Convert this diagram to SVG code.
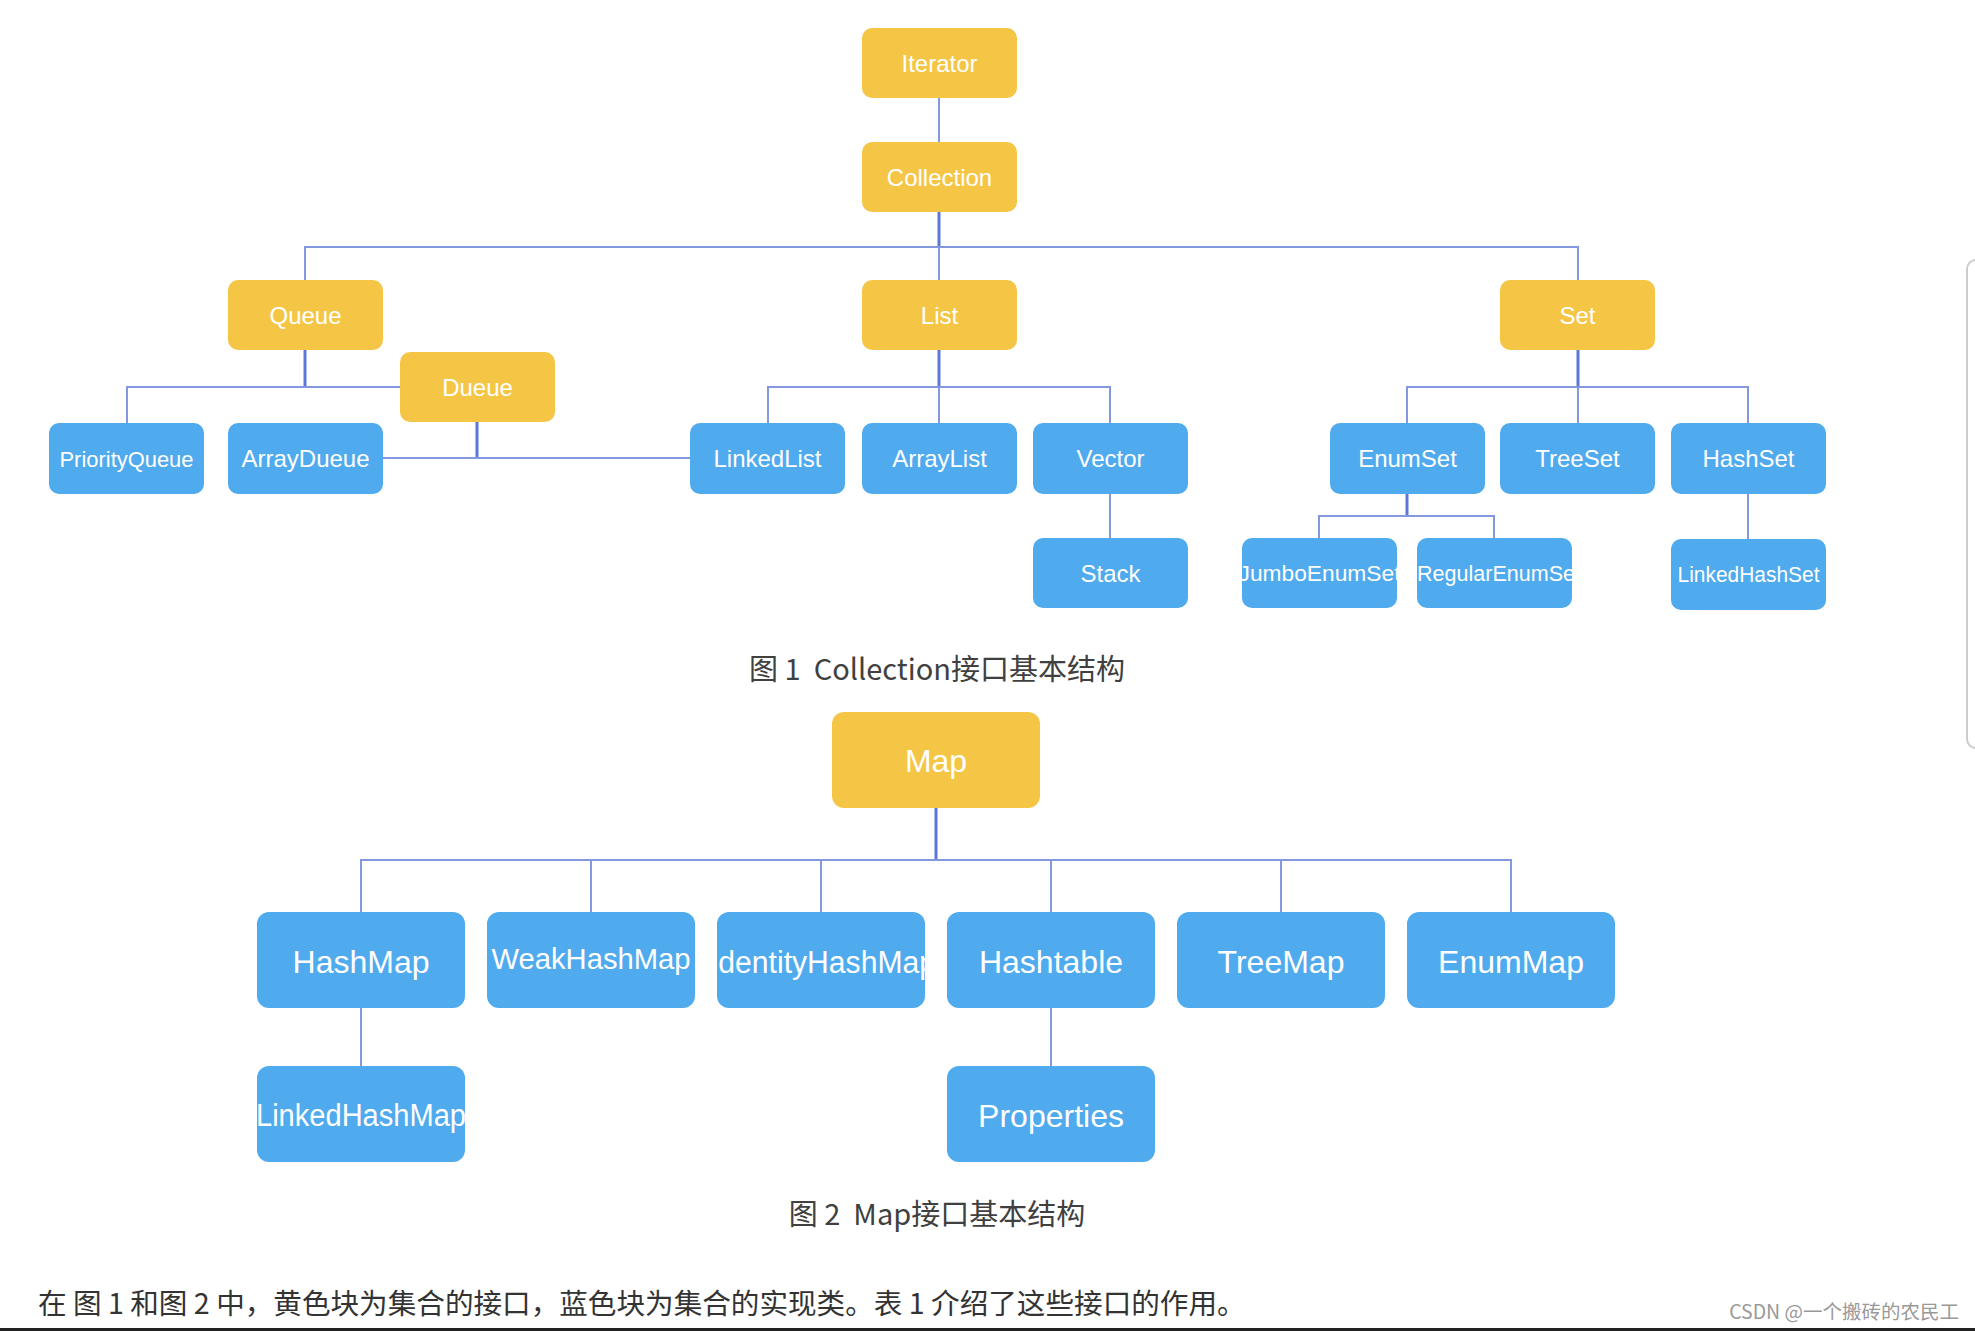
<svg xmlns="http://www.w3.org/2000/svg" width="1975" height="1331" viewBox="0 0 1975 1331">
<style>
.y{fill:#F5C646}
.b{fill:#4FAAEE}
.t{font-family:"Liberation Sans",Arial,sans-serif;fill:#ffffff;text-anchor:middle}
.s{font-size:24px}
.m{font-size:32px}
.c{stroke:#8398DF;stroke-width:2;fill:none}
.d{stroke:#5C78D6;stroke-width:3;fill:none}
.cap{font-family:"Noto Sans CJK SC","Microsoft YaHei",sans-serif;fill:#404040;text-anchor:middle}
</style>
<defs>
<clipPath id="cJumbo"><rect x="1242" y="538" width="155" height="70" rx="10"/></clipPath>
<clipPath id="cReg"><rect x="1417" y="538" width="155" height="70" rx="10"/></clipPath>
<clipPath id="cIdent"><rect x="717" y="912" width="208" height="96" rx="12"/></clipPath>
<clipPath id="cLHM"><rect x="257" y="1066" width="208" height="96" rx="12"/></clipPath>
</defs>
<rect x="0" y="0" width="1975" height="1331" fill="#ffffff"/>

<g id="connectors">
  <path class="c" d="M939 98V142"/>
  <path class="d" d="M939 212V247"/>
  <path class="c" d="M305 280V247H1578V280M939 247V280"/>
  <path class="d" d="M305 350V387"/>
  <path class="c" d="M127 423V387H400"/>
  <path class="d" d="M477 422V458"/>
  <path class="c" d="M383 458H690"/>
  <path class="d" d="M939 350V387"/>
  <path class="c" d="M768 423V387H1110V423M939 387V423"/>
  <path class="c" d="M1110 494V538"/>
  <path class="d" d="M1578 350V387"/>
  <path class="c" d="M1407 423V387H1748V423M1578 387V423"/>
  <path class="d" d="M1407 494V516"/>
  <path class="c" d="M1319 538V516H1494V538"/>
  <path class="c" d="M1748 494V539"/>
  <path class="d" d="M936 808V860"/>
  <path class="c" d="M361 912V860H1511V912M591 860V912M821 860V912M1051 860V912M1281 860V912"/>
  <path class="c" d="M361 1008V1066"/>
  <path class="c" d="M1051 1008V1066"/>
</g>

<g id="n-iterator"><rect class="y" x="862" y="28" width="155" height="70" rx="10"/><text class="t s" x="939.5" y="72">Iterator</text></g>
<g id="n-collection"><rect class="y" x="862" y="142" width="155" height="70" rx="10"/><text class="t s" x="939.5" y="186">Collection</text></g>
<g id="n-queue"><rect class="y" x="228" y="280" width="155" height="70" rx="10"/><text class="t s" x="305.5" y="324">Queue</text></g>
<g id="n-list"><rect class="y" x="862" y="280" width="155" height="70" rx="10"/><text class="t s" x="939.5" y="324">List</text></g>
<g id="n-set"><rect class="y" x="1500" y="280" width="155" height="70" rx="10"/><text class="t s" x="1577.5" y="324">Set</text></g>
<g id="n-dueue"><rect class="y" x="400" y="352" width="155" height="70" rx="10"/><text class="t s" x="477.5" y="396">Dueue</text></g>
<g id="n-priorityqueue"><rect class="b" x="49" y="423" width="155" height="71" rx="10"/><text class="t" style="font-size:22px" x="126.5" y="467" textLength="134" lengthAdjust="spacingAndGlyphs">PriorityQueue</text></g>
<g id="n-arraydueue"><rect class="b" x="228" y="423" width="155" height="71" rx="10"/><text class="t s" x="305.5" y="467">ArrayDueue</text></g>
<g id="n-linkedlist"><rect class="b" x="690" y="423" width="155" height="71" rx="10"/><text class="t s" x="767.5" y="467">LinkedList</text></g>
<g id="n-arraylist"><rect class="b" x="862" y="423" width="155" height="71" rx="10"/><text class="t s" x="939.5" y="467">ArrayList</text></g>
<g id="n-vector"><rect class="b" x="1033" y="423" width="155" height="71" rx="10"/><text class="t s" x="1110.5" y="467">Vector</text></g>
<g id="n-stack"><rect class="b" x="1033" y="538" width="155" height="70" rx="10"/><text class="t s" x="1110.5" y="582">Stack</text></g>
<g id="n-enumset"><rect class="b" x="1330" y="423" width="155" height="71" rx="10"/><text class="t s" x="1407.5" y="467">EnumSet</text></g>
<g id="n-treeset"><rect class="b" x="1500" y="423" width="155" height="71" rx="10"/><text class="t s" x="1577.5" y="467">TreeSet</text></g>
<g id="n-hashset"><rect class="b" x="1671" y="423" width="155" height="71" rx="10"/><text class="t s" x="1748.5" y="467">HashSet</text></g>
<g id="n-jumboenumset"><rect class="b" x="1242" y="538" width="155" height="70" rx="10"/><text class="t" clip-path="url(#cJumbo)" style="font-size:22px" x="1319.5" y="581" textLength="162" lengthAdjust="spacingAndGlyphs">JumboEnumSet</text></g>
<g id="n-regularenumset"><rect class="b" x="1417" y="538" width="155" height="70" rx="10"/><text class="t" clip-path="url(#cReg)" style="font-size:22px" x="1499" y="581" textLength="164" lengthAdjust="spacingAndGlyphs">RegularEnumSet</text></g>
<g id="n-linkedhashset"><rect class="b" x="1671" y="539" width="155" height="71" rx="10"/><text class="t" style="font-size:22px" x="1748.5" y="582" textLength="142" lengthAdjust="spacingAndGlyphs">LinkedHashSet</text></g>

<text class="cap" style="font-size:29px" x="937" y="680" xml:space="preserve">图 1  Collection接口基本结构</text>

<g id="n-map"><rect class="y" x="832" y="712" width="208" height="96" rx="12"/><text class="t m" x="936" y="772">Map</text></g>
<g id="n-hashmap"><rect class="b" x="257" y="912" width="208" height="96" rx="12"/><text class="t m" x="361" y="973">HashMap</text></g>
<g id="n-weakhashmap"><rect class="b" x="487" y="912" width="208" height="96" rx="12"/><text class="t" style="font-size:30px" x="591" y="969" textLength="199" lengthAdjust="spacingAndGlyphs">WeakHashMap</text></g>
<g id="n-identityhashmap"><rect class="b" x="717" y="912" width="208" height="96" rx="12"/><text class="t" clip-path="url(#cIdent)" style="font-size:31px" x="823" y="973" textLength="226" lengthAdjust="spacingAndGlyphs">IdentityHashMap</text></g>
<g id="n-hashtable"><rect class="b" x="947" y="912" width="208" height="96" rx="12"/><text class="t m" x="1051" y="973">Hashtable</text></g>
<g id="n-treemap"><rect class="b" x="1177" y="912" width="208" height="96" rx="12"/><text class="t m" x="1281" y="973">TreeMap</text></g>
<g id="n-enummap"><rect class="b" x="1407" y="912" width="208" height="96" rx="12"/><text class="t m" x="1511" y="973">EnumMap</text></g>
<g id="n-linkedhashmap"><rect class="b" x="257" y="1066" width="208" height="96" rx="12"/><text class="t" clip-path="url(#cLHM)" style="font-size:31px" x="361" y="1126" textLength="210" lengthAdjust="spacingAndGlyphs">LinkedHashMap</text></g>
<g id="n-properties"><rect class="b" x="947" y="1066" width="208" height="96" rx="12"/><text class="t m" x="1051" y="1127">Properties</text></g>

<text class="cap" style="font-size:29px" x="937" y="1225" xml:space="preserve">图 2  Map接口基本结构</text>

<text class="cap" style="font-size:28.6px;text-anchor:start;fill:#333333" x="38" y="1314" xml:space="preserve">在 图 1 和图 2 中，黄色块为集合的接口，蓝色块为集合的实现类。表 1 介绍了这些接口的作用。</text>
<text style="font-family:'Noto Sans CJK SC',sans-serif;font-size:19.5px;fill:#999999;text-anchor:end" x="1959" y="1319">CSDN @一个搬砖的农民工</text>

<rect x="0" y="1328" width="1975" height="3" fill="#222222"/>
<rect x="1967" y="260" width="30" height="488" rx="9" fill="none" stroke="#cccccc" stroke-width="2"/>
</svg>
